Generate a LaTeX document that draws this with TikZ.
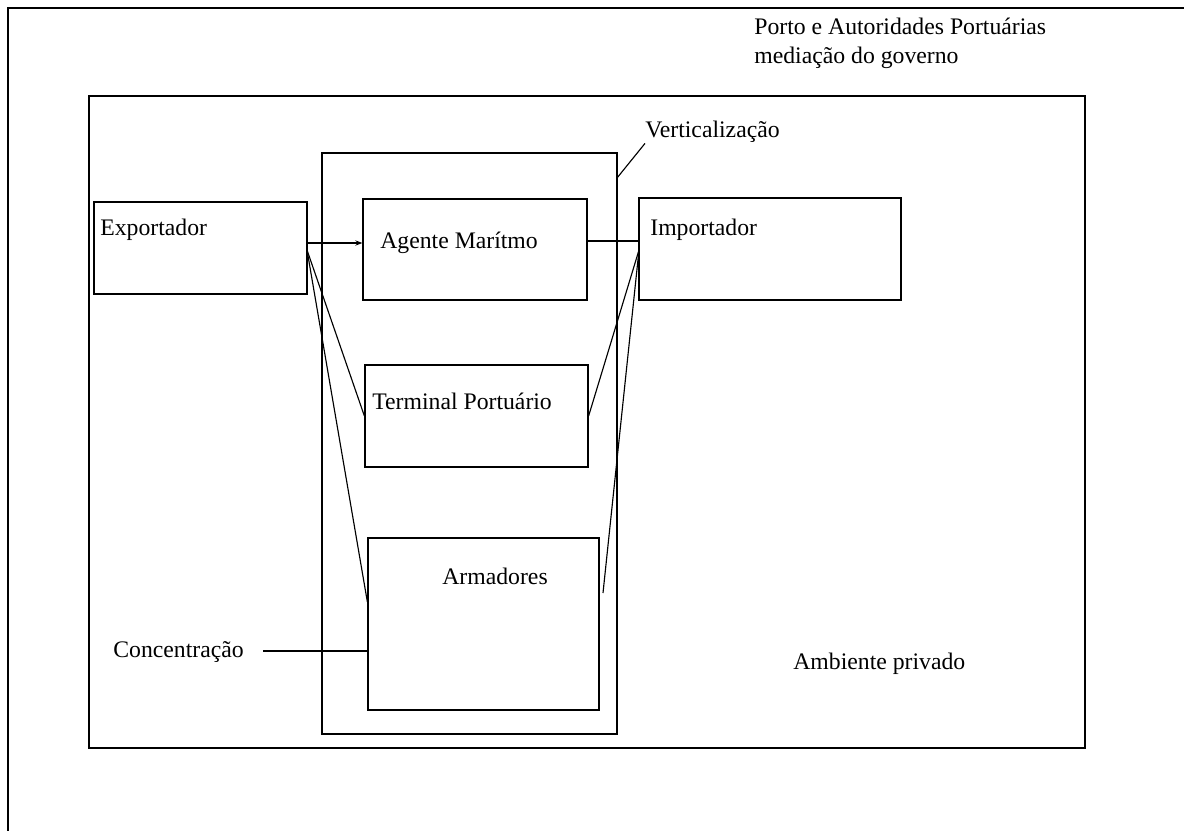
\documentclass[tikz,border=0pt]{standalone}
\usepackage{fontspec}
\setmainfont{Liberation Serif}
\usetikzlibrary{positioning, arrows.meta, fit}

\begin{document}
\begin{tikzpicture}[
  x=0.02cm, y=-0.02cm,
  >={Stealth[length=4pt, width=3pt]},
  box/.style={rectangle, draw, inner sep=0pt, line width=0.7pt},
  txt/.style={anchor=base west, inner sep=0pt,
    font=\fontsize{13.5}{16}\selectfont},
  link/.style={line width=0.65pt},
]
\useasboundingbox (0,0) rectangle (1184,831);

% --- Frame of the page ---
\draw[line width=0.9pt] (8,831) -- (8,8) -- (1184,8);

\node[txt] (porto) at (754,35) {Porto e Autoridades Portuárias};
\node[txt] (gov)   at (754,64) {mediação do governo};

% --- Boxes ---
\node[box, fit={(89,96) (1085,748)}]  (amb)  {};
\node[box, fit={(322,153) (617,734)}] (vert) {};
\node[box, fit={(94,202) (307,294)}]  (exp)  {};
\node[box, fit={(363,199) (587,300)}] (age)  {};
\node[box, fit={(639,198) (901,300)}] (imp)  {};
\node[box, fit={(365,365) (588,467)}] (ter)  {};
\node[box, fit={(368,538) (599,710)}] (arm)  {};

\node[txt] (exp-t)  at (100,236) {Exportador};
\node[txt] (age-t)  at (380,249) {Agente Marítmo};
\node[txt] (imp-t)  at (650,236) {Importador};
\node[txt] (ter-t)  at (372,409) {Terminal Portuário};
\node[txt] (arm-t)  at (442,584) {Armadores};
\node[txt] (amb-t)  at (793,669) {Ambiente privado};
\node[txt] (vert-t) at (645,138) {Verticalização};
\node[txt] (conc)   at (113,657) {Concentração};

% --- Leaders ---
\coordinate (vtick) at (617,178);
\coordinate (concR) at (263,651);
\coordinate (expO)  at (307,250);
\coordinate (impO)  at (639,250);
\coordinate (armR)  at (603,593);

\draw[link] (vtick) -- (vert-t.south west);
\draw[link] (concR) -- (arm.west |- concR);

% --- Links between the agents ---
\draw[link, ->] (exp.east |- 0,243) -- (age.west |- 0,243);
\draw[link] (age.east |- 0,241) -- (imp.west |- 0,241);

\draw[link] (expO) -- (ter.west);
\draw[link] (expO) -- (arm.west |- 0,602);
\draw[link] (impO) -- (ter.east);
\draw[link] (impO) -- (armR);

\end{tikzpicture}
\end{document}
